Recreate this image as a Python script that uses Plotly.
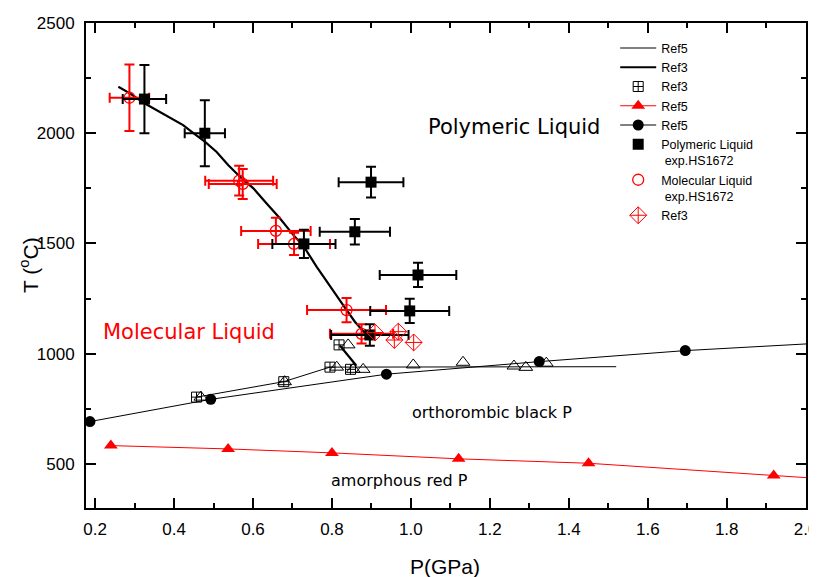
import plotly.graph_objects as go

# ---------------- data ----------------
# Ref5 thin line
ref5_thin_P = [0.457, 0.678, 0.795, 1.52]
ref5_thin_T = [803, 873, 939, 941]

# Ref3 thick line (melting curve) + short segment
ref3_line_P = [0.259, 0.288, 0.325, 0.356, 0.390, 0.423, 0.449, 0.478, 0.508, 0.537,
               0.567, 0.601, 0.634, 0.668, 0.702, 0.729, 0.761, 0.795, 0.828, 0.858,
               0.879, 0.892, None, 0.820, 0.862]
ref3_line_T = [2211, 2181, 2136, 2105, 2068, 2037, 2000, 1962, 1915, 1856,
               1803, 1750, 1682, 1614, 1539, 1485, 1395, 1304, 1221, 1145,
               1100, 1077, None, 1037, 945]

# Ref3 square-cross markers
ref3_sq_P = [0.457, 0.678, 0.795, 0.818, 0.847]
ref3_sq_T = [803, 873, 939, 1040, 929]

# open triangles (not in legend)
tri_P = [0.468, 0.680, 0.812, 0.841, 0.854, 0.879, 1.006, 1.132, 1.261, 1.291, 1.343]
tri_T = [803, 873, 939, 1040, 929, 929, 949, 961, 944, 938, 957]

# Ref5 red triangles (amorphous red P boundary)
red_tri_P = [0.240, 0.537, 0.800, 1.121, 1.450, 1.919, 2.10]
red_tri_T = [583, 568, 550, 523, 503, 447, 426]

# Ref5 black circles (orthorhombic black P boundary)
circ_P = [0.187, 0.493, 0.938, 1.325, 1.695, 2.10]
circ_T = [692, 793, 907, 964, 1014, 1054]

# Polymeric liquid exp.HS1672
poly_P = [0.325, 0.478, 0.729, 0.858, 0.899, 1.018, 0.997, 0.896]
poly_T = [2155, 2000, 1498, 1553, 1778, 1357, 1194, 1085]
poly_eP = [0.055, 0.051, 0.080, 0.089, 0.082, 0.097, 0.100, 0.098]
poly_eT = [155, 150, 64, 58, 70, 55, 55, 49]

# Molecular liquid exp.HS1672
mol_P = [0.287, 0.565, 0.574, 0.658, 0.704, 0.837, 0.875]
mol_T = [2161, 1785, 1770, 1557, 1498, 1198, 1090]
mol_eP = [0.050, 0.086, 0.086, 0.088, 0.091, 0.100, 0.080]
mol_eT = [151, 68, 68, 60, 50, 55, 44]

# Ref3 red diamonds
dia_P = [0.909, 0.968, 0.958, 1.007]
dia_T = [1096, 1100, 1062, 1051]

RED = "#ff0000"
BLK = "#000000"

fig = go.Figure()

fig.add_trace(go.Scatter(x=ref5_thin_P, y=ref5_thin_T, mode="lines", name="Ref5",
                         line=dict(color=BLK, width=1), legendrank=1))
fig.add_trace(go.Scatter(x=ref3_line_P, y=ref3_line_T, mode="lines", name="Ref3",
                         line=dict(color=BLK, width=2.2), legendrank=2, connectgaps=False))
fig.add_trace(go.Scatter(x=red_tri_P, y=red_tri_T, mode="lines+markers", name="Ref5",
                         line=dict(color=RED, width=1),
                         marker=dict(symbol="triangle-up", size=12, color=RED),
                         legendrank=4))
fig.add_trace(go.Scatter(x=circ_P, y=circ_T, mode="lines+markers", name="Ref5",
                         line=dict(color=BLK, width=1),
                         marker=dict(symbol="circle", size=11, color=BLK),
                         legendrank=5))
fig.add_trace(go.Scatter(x=tri_P, y=tri_T, mode="markers", showlegend=False,
                         marker=dict(symbol="triangle-up-open", size=12,
                                     color=BLK, line=dict(width=1, color=BLK))))
fig.add_trace(go.Scatter(x=ref3_sq_P, y=ref3_sq_T, mode="markers", name="Ref3",
                         marker=dict(symbol="square-cross-open", size=10,
                                     color=BLK, line=dict(width=1, color=BLK)),
                         legendrank=3))
fig.add_trace(go.Scatter(x=mol_P, y=mol_T, mode="markers",
                         name="Molecular Liquid<br> exp.HS1672",
                         marker=dict(symbol="circle-open", size=11, color=RED,
                                     line=dict(width=1.3, color=RED)),
                         error_x=dict(type="data", array=mol_eP, color=RED, thickness=2, width=5),
                         error_y=dict(type="data", array=mol_eT, color=RED, thickness=2, width=5),
                         legendrank=7))
fig.add_trace(go.Scatter(x=poly_P, y=poly_T, mode="markers",
                         name="Polymeric Liquid<br> exp.HS1672",
                         marker=dict(symbol="square", size=11, color=BLK),
                         error_x=dict(type="data", array=poly_eP, color=BLK, thickness=2, width=5),
                         error_y=dict(type="data", array=poly_eT, color=BLK, thickness=2, width=5),
                         legendrank=6))
fig.add_trace(go.Scatter(x=dia_P, y=dia_T, mode="markers", name="Ref3",
                         marker=dict(symbol="diamond-cross-open", size=13, color=RED,
                                     line=dict(width=1, color=RED)),
                         legendrank=8))

ann_font = "DejaVu Sans"
annotations = [
    dict(x=1.260, y=2028, text="Polymeric Liquid", font=dict(family=ann_font, size=21, color=BLK)),
    dict(x=0.438, y=1099, text="Molecular Liquid", font=dict(family=ann_font, size=21, color=RED)),
    dict(x=1.206, y=731, text="orthorombic black P", font=dict(family=ann_font, size=16, color=BLK)),
    dict(x=0.972, y=423, text="amorphous red P", font=dict(family=ann_font, size=16, color=BLK)),
]
for a in annotations:
    a.update(xref="x", yref="y", showarrow=False, xanchor="center", yanchor="middle")

# axis titles as paper annotations
annotations.append(dict(xref="paper", yref="paper", x=0.4986, y=-0.1196, text="P(GPa)",
                        showarrow=False, xanchor="center", yanchor="middle",
                        font=dict(family="Liberation Sans", size=21, color=BLK)))
annotations.append(dict(xref="paper", yref="paper", x=-0.0792, y=0.501,
                        text="T (<sup>o</sup>C)", textangle=-90,
                        showarrow=False, xanchor="center", yanchor="middle",
                        font=dict(family="Liberation Sans", size=21, color=BLK)))

axis_common = dict(
    showline=True, linewidth=2, linecolor=BLK, mirror="ticks",
    ticks="inside", ticklen=10, tickwidth=2, tickcolor=BLK,
    showgrid=False, zeroline=False, automargin=False,
    ticklabeloverflow="allow",
    tickfont=dict(family="Liberation Sans", size=17, color=BLK),
)

fig.update_layout(
    width=809, height=569,
    margin=dict(l=78, r=11, t=15, b=69),
    paper_bgcolor="white", plot_bgcolor="white",
    font=dict(family="Liberation Sans", color=BLK),
    annotations=annotations,
    xaxis=dict(range=[0.177, 2.0008], tick0=0.2, dtick=0.2, tickformat=".1f",
               minor=dict(dtick=0.1, ticks="inside", ticklen=5, tickwidth=2, tickcolor=BLK),
               ticklabelstandoff=5,
               **axis_common),
    yaxis=dict(range=[300, 2500], tick0=0, dtick=500,
               minor=dict(dtick=250, ticks="inside", ticklen=5, tickwidth=2, tickcolor=BLK),
               ticklabelstandoff=6,
               **axis_common),
    legend=dict(x=0.735, y=0.9786, xanchor="left", yanchor="top",
                bgcolor="rgba(0,0,0,0)", borderwidth=0,
                font=dict(family="Liberation Sans", size=12.5, color=BLK),
                itemwidth=36, valign="top", tracegroupgap=0),
    showlegend=True,
)

fig.write_html("out.html")
